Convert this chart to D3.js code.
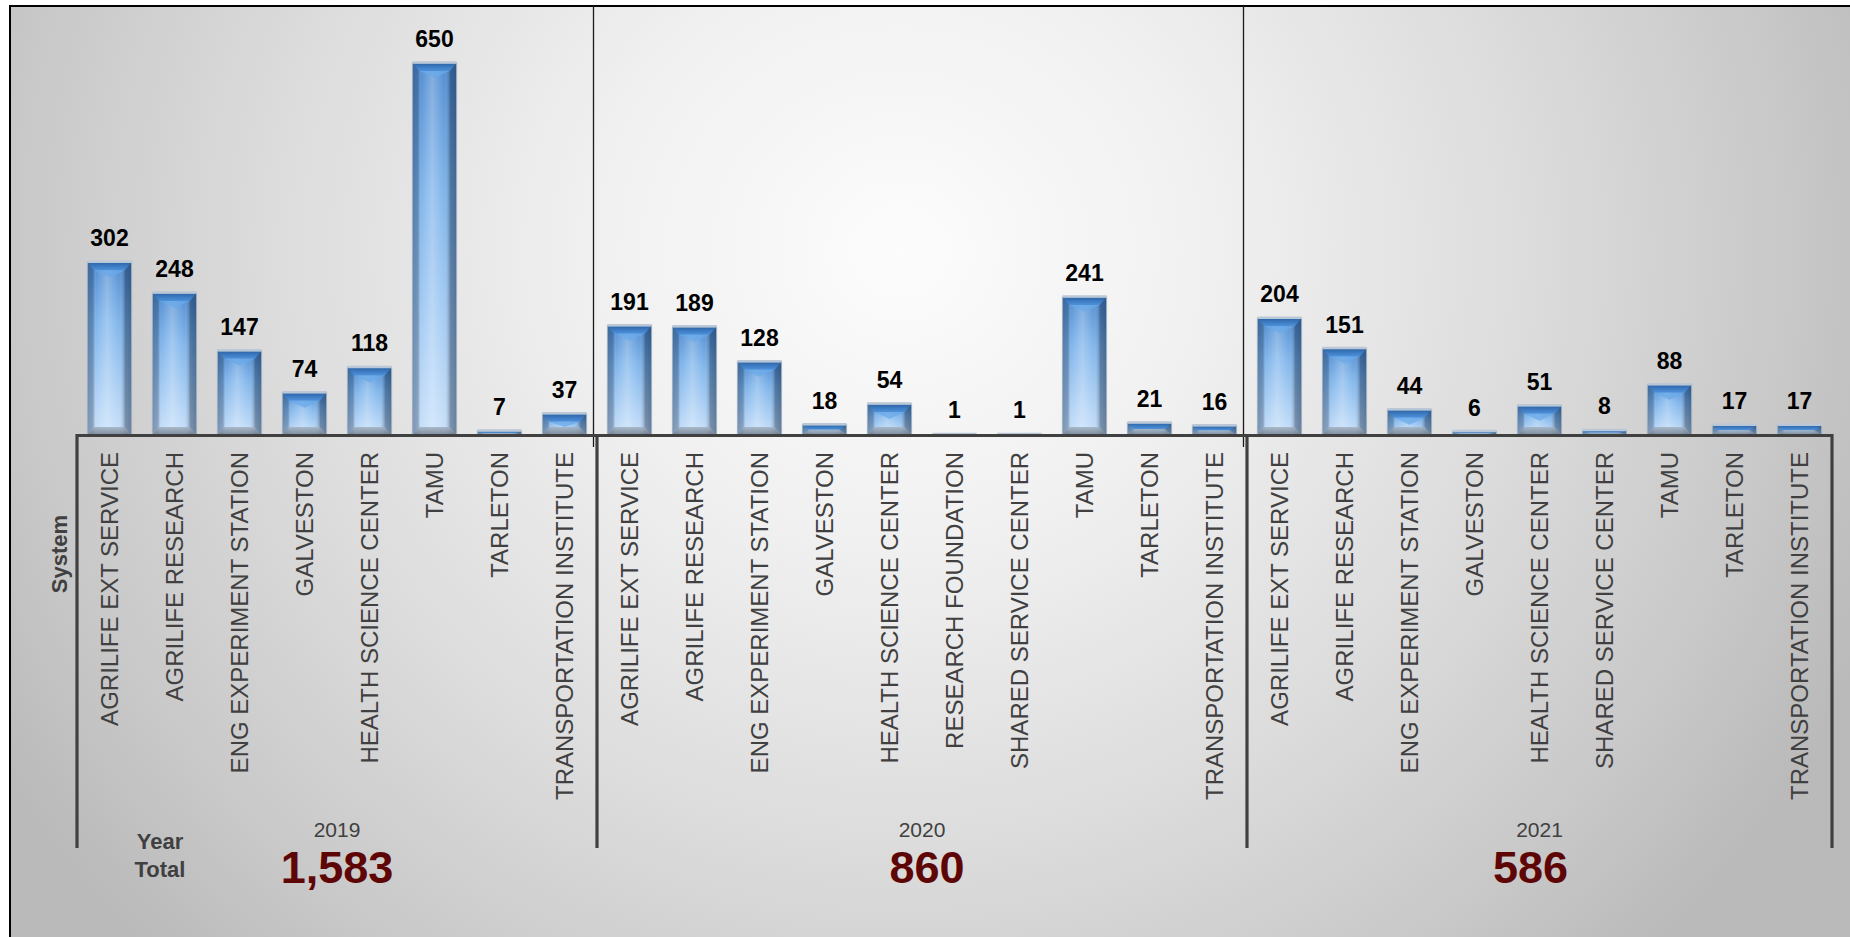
<!DOCTYPE html>
<html>
<head>
<meta charset="utf-8">
<script src="https://cdn.jsdelivr.net/npm/d3@7/dist/d3.min.js"></script>
<style>
  html, body { margin: 0; padding: 0; background: #ffffff; }
  svg { display: block; }
  text { font-family: "Liberation Sans", Arial, sans-serif; }
</style>
</head>
<body>
<svg id="chart" width="1850" height="937"></svg>
<script>
// ---- DATA ----
const years = ["2019", "2020", "2021"];
const categories2019 = ["AGRILIFE EXT SERVICE", "AGRILIFE RESEARCH", "ENG EXPERIMENT STATION", "GALVESTON", "HEALTH SCIENCE CENTER", "TAMU", "TARLETON", "TRANSPORTATION INSTITUTE"];
const values2019 = [302, 248, 147, 74, 118, 650, 7, 37];
const categories2020 = ["AGRILIFE EXT SERVICE", "AGRILIFE RESEARCH", "ENG EXPERIMENT STATION", "GALVESTON", "HEALTH SCIENCE CENTER", "RESEARCH FOUNDATION", "SHARED SERVICE CENTER", "TAMU", "TARLETON", "TRANSPORTATION INSTITUTE"];
const values2020 = [191, 189, 128, 18, 54, 1, 1, 241, 21, 16];
const categories2021 = ["AGRILIFE EXT SERVICE", "AGRILIFE RESEARCH", "ENG EXPERIMENT STATION", "GALVESTON", "HEALTH SCIENCE CENTER", "SHARED SERVICE CENTER", "TAMU", "TARLETON", "TRANSPORTATION INSTITUTE"];
const values2021 = [204, 151, 44, 6, 51, 8, 88, 17, 17];
const yearTotals = [1583, 860, 586];
const axisTitle = "System";
const yearTitle = ["Year", "Total"];

// ---- BUILD ----
const catsByYear = [categories2019, categories2020, categories2021];
const valsByYear = [values2019, values2020, values2021];
const rows = [];
years.forEach((yr, i) => catsByYear[i].forEach((c, j) => rows.push({ year: yr, cat: c, value: valsByYear[i][j], key: yr + "|" + c })));

const svg = d3.select("#chart");
const defs = svg.append("defs");

// background gradient
const bg = defs.append("radialGradient").attr("id", "bgGrad")
  .attr("gradientUnits", "userSpaceOnUse").attr("cx", 900).attr("cy", 250).attr("r", 1050)
  .attr("gradientTransform", "translate(900,250) scale(1,0.95) translate(-900,-250)");
[[0, "#fcfcfc"], [0.3, "#f0f0f0"], [0.6, "#dcdcdc"], [0.85, "#c8c8c8"], [1, "#bababa"]]
  .forEach(([o, c]) => bg.append("stop").attr("offset", o).attr("stop-color", c));

function linGrad(id, vertical, stops) {
  const g = defs.append("linearGradient").attr("id", id)
    .attr("x1", 0).attr("y1", 0).attr("x2", vertical ? 0 : 1).attr("y2", vertical ? 1 : 0);
  stops.forEach(([o, c, op]) => g.append("stop").attr("offset", o).attr("stop-color", c).attr("stop-opacity", op == null ? 1 : op));
}
linGrad("bodyV", true, [[0, "#4a88cf"], [0.35, "#7ab2ea"], [1, "#c6dffa"]]);
linGrad("bodyH", false, [[0, "#2a3f5c", 0.45], [0.13, "#2a3f5c", 0.35], [0.2, "#ffffff", 0.05], [0.45, "#ffffff", 0.3], [0.72, "#ffffff", 0.05], [0.86, "#10233d", 0.4], [1, "#10233d", 0.5]]);
linGrad("topBev", true, [[0, "#2c63a6"], [1, "#4e92dc"]]);
linGrad("botBev", true, [[0, "#a3b2c2"], [1, "#6f7d8d"]]);

svg.append("rect").attr("x", 10).attr("y", 6).attr("width", 1850).attr("height", 945)
  .attr("fill", "url(#bgGrad)").attr("stroke", "#000").attr("stroke-width", 2);

// scales
const x = d3.scaleBand().domain(rows.map(d => d.key)).range([77, 1832]).paddingInner(0.32).paddingOuter(0.16);
const y = d3.scaleLinear().domain([0, 650]).range([435, 63]);

// group boundaries
const firstKeys = years.map((yr, i) => yr + "|" + catsByYear[i][0]);
const bounds = firstKeys.map(k => x(k) - x.step() * x.paddingOuter()).concat([x.range()[1]]);

// thin dividers in plot area
bounds.slice(1, -1).forEach(bx => {
  svg.append("line").attr("x1", bx - 3.5).attr("x2", bx - 3.5).attr("y1", 6).attr("y2", 447)
    .attr("stroke", "#1a1a1a").attr("stroke-width", 1.3);
});

// bars
const bars = svg.append("g").selectAll("g").data(rows).join("g");
bars.each(function (d) {
  const g = d3.select(this);
  const x0 = x(d.key), w = x.bandwidth();
  const top = y(d.value), h = y(0) - y(d.value);
  const b = Math.min(8, h / 2), s = Math.min(7, w * 0.16);
  g.append("rect").attr("x", x0).attr("y", top).attr("width", w).attr("height", h).attr("fill", "url(#bodyV)");
  g.append("rect").attr("x", x0).attr("y", top).attr("width", w).attr("height", h).attr("fill", "url(#bodyH)");
  g.append("polygon").attr("points", [[x0, top], [x0 + w, top], [x0 + w - s, top + b], [x0 + s, top + b]].join(" "))
    .attr("fill", "url(#topBev)");
  const t = Math.min(7, Math.max(0, h - 2 * b));
  if (t > 0) {
    g.append("polygon").attr("points", [[x0 + s, top + b], [x0 + w - s, top + b], [x0 + w / 2, top + b + t]].join(" "))
      .attr("fill", "#6aaaea").attr("opacity", 0.75);
  }
  g.append("polygon").attr("points", [[x0 + s, top + h - b], [x0 + w - s, top + h - b], [x0 + w, top + h], [x0, top + h]].join(" "))
    .attr("fill", "url(#botBev)").attr("opacity", 0.85);
  g.append("rect").attr("x", x0).attr("y", top).attr("width", w).attr("height", h)
    .attr("fill", "none").attr("stroke", "#9fb0c2").attr("stroke-width", 1);
  g.append("line").attr("x1", x0).attr("x2", x0 + w).attr("y1", top - 0.5).attr("y2", top - 0.5)
    .attr("stroke", "#b9c7d6").attr("stroke-width", 2.5);
});

// value labels
svg.append("g").selectAll("text").data(rows).join("text")
  .attr("x", d => x(d.key) + x.bandwidth() / 2)
  .attr("y", d => y(d.value) - 16)
  .attr("text-anchor", "middle")
  .style("font-size", "23px").style("font-weight", "bold").attr("fill", "#000")
  .text(d => d.value);

// axis
const axisG = svg.append("g").attr("transform", "translate(0,435)")
  .call(d3.axisBottom(x).tickSize(0).tickSizeOuter(0).tickFormat(k => k.split("|")[1]));
axisG.select(".domain").attr("stroke", "#404040").attr("stroke-width", 3.2);
axisG.selectAll(".tick text")
  .attr("transform", "rotate(-90)")
  .attr("x", -17).attr("y", 0).attr("dy", "0.35em")
  .style("text-anchor", "end")
  .style("font-size", "24px")
  .style("font-family", "'Liberation Sans', Arial, sans-serif")
  .attr("fill", "#404040");

// vertical group lines of the multi-level axis
svg.append("g").selectAll("line").data(bounds).join("line")
  .attr("x1", d => d).attr("x2", d => d).attr("y1", 434).attr("y2", 848)
  .attr("stroke", "#404040").attr("stroke-width", 3.2);

// year labels & totals
const totalOffsets = [0, 5, -9];
years.forEach((yr, i) => {
  const cx = (bounds[i] + bounds[i + 1]) / 2;
  svg.append("text").attr("x", cx).attr("y", 837).attr("text-anchor", "middle")
    .style("font-size", "21px").attr("fill", "#404040").text(yr);
  svg.append("text").attr("x", cx + totalOffsets[i]).attr("y", 883).attr("text-anchor", "middle")
    .style("font-size", "45px").style("font-weight", "bold").attr("fill", "#5e0606")
    .text(d3.format(",")(yearTotals[i]));
});

// "System" title
svg.append("text").attr("transform", "translate(59,554) rotate(-90)")
  .attr("text-anchor", "middle").attr("dy", "0.35em")
  .style("font-size", "22px").style("font-weight", "bold").attr("fill", "#404040")
  .text(axisTitle);

// "Year Total"
svg.append("text").attr("x", 160).attr("y", 849).attr("text-anchor", "middle")
  .style("font-size", "22px").style("font-weight", "bold").attr("fill", "#404040").text(yearTitle[0]);
svg.append("text").attr("x", 160).attr("y", 877).attr("text-anchor", "middle")
  .style("font-size", "22px").style("font-weight", "bold").attr("fill", "#404040").text(yearTitle[1]);
</script>
</body>
</html>
